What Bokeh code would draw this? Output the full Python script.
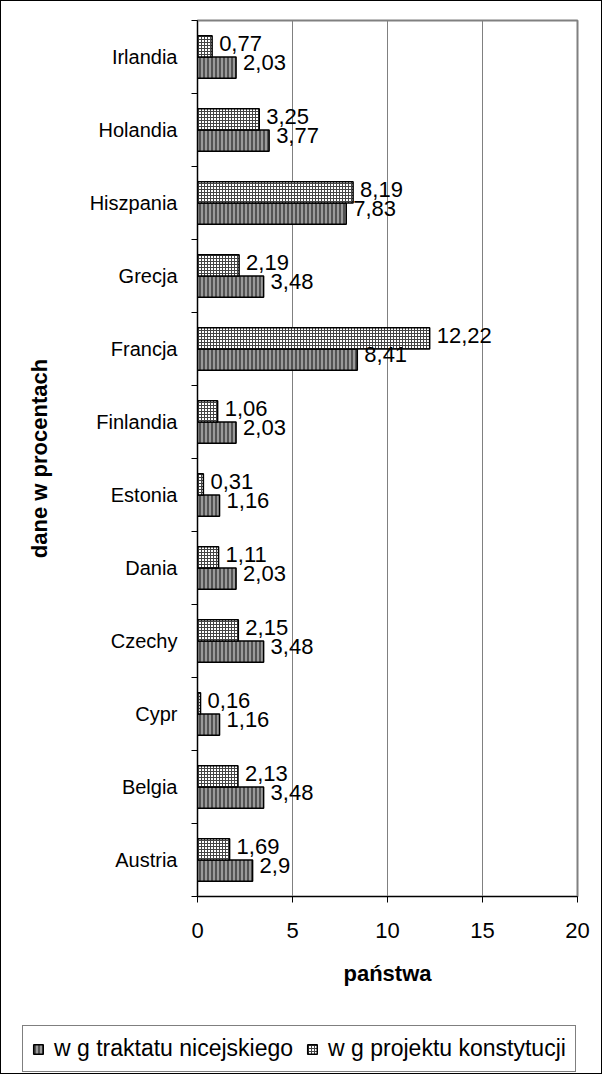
from bokeh.plotting import figure
from bokeh.layouts import column
from bokeh.models import (ColumnDataSource, FixedTicker, Legend, LegendItem,
                          CDSView, IndexFilter)
from bokeh.core.properties import value
from bokeh.embed import file_html
from bokeh.resources import INLINE

# data (bottom to top)
countries = ["Austria", "Belgia", "Cypr", "Czechy", "Dania", "Estonia",
             "Finlandia", "Francja", "Grecja", "Hiszpania", "Holandia", "Irlandia"]
nicea = [2.9, 3.48, 1.16, 3.48, 2.03, 1.16, 2.03, 8.41, 3.48, 7.83, 3.77, 2.03]
konst = [1.69, 2.13, 0.16, 2.15, 1.11, 0.31, 1.06, 12.22, 2.19, 8.19, 3.25, 0.77]
x_ticks = [0, 5, 10, 15, 20]
series_labels = ["w g traktatu nicejskiego", "w g projektu konstytucji"]

FONT = "Liberation Sans"
BAR_H = 0.29
OFF = 0.145

NICEA_STYLE = dict(fill_color="#9a9a9a", hatch_pattern="|", hatch_color="#3a3a3a",
                   hatch_scale=4, hatch_weight=1.5, line_color="black", line_width=1.5)
KONST_STYLE = dict(fill_color="white", hatch_pattern="+", hatch_color="#444444",
                   hatch_scale=3, hatch_weight=1, line_color="black", line_width=1.5)

def fmt(v):
    return ("%g" % v).replace(".", ",")

idx = list(range(len(countries)))
src = ColumnDataSource(dict(
    y_top=[i + 0.5 + OFF for i in idx],
    y_bot=[i + 0.5 - OFF for i in idx],
    ly_top=[i + 0.5 + 0.19 for i in idx],
    ly_bot=[i + 0.5 - 0.08 for i in idx],
    nicea=nicea, konst=konst,
    t_nicea=[fmt(v) for v in nicea],
    t_konst=[fmt(v) for v in konst],
))

p = figure(width=600, height=1008, x_range=(0, 20), y_range=(0, len(countries)),
           output_backend="svg", toolbar_location=None,
           min_border_left=196, min_border_right=24, min_border_top=19,
           min_border_bottom=113)
p.frame_align = False
p.outline_line_color = "#808080"
p.outline_line_width = 2
p.background_fill_color = "white"

p.hbar(y="y_bot", right="nicea", left=0, height=BAR_H, source=src, **NICEA_STYLE)
p.hbar(y="y_top", right="konst", left=0, height=BAR_H, source=src, **KONST_STYLE)

p.text(x="konst", y="ly_top", text="t_konst", source=src, x_offset=7,
       text_font=value(FONT), text_font_size="22px", text_baseline="middle",
       text_align="left", text_color="black")
p.text(x="nicea", y="ly_bot", text="t_nicea", source=src, x_offset=7,
       text_font=value(FONT), text_font_size="22px", text_baseline="middle",
       text_align="left", text_color="black")

# x axis
p.xaxis.ticker = FixedTicker(ticks=x_ticks)
p.xaxis.major_tick_out = 6
p.xaxis.major_tick_in = 0
p.xaxis.minor_tick_out = 0
p.xaxis.minor_tick_in = 0
p.xaxis.axis_line_color = "black"
p.xaxis.major_tick_line_color = "black"
p.xaxis.major_label_text_font = FONT
p.xaxis.major_label_text_font_size = "22px"
p.xaxis.major_label_text_color = "black"
p.xaxis.major_label_standoff = 20
p.xaxis.axis_label = "państwa"
p.xaxis.axis_label_text_font = FONT
p.xaxis.axis_label_text_font_size = "22px"
p.xaxis.axis_label_text_font_style = "bold"
p.xaxis.axis_label_text_color = "black"
p.xaxis.axis_label_standoff = 20

# y axis
centers = [i + 0.5 for i in idx]
p.yaxis.ticker = FixedTicker(ticks=centers, minor_ticks=list(range(len(countries) + 1)))
p.yaxis.major_label_overrides = {c: n for c, n in zip(centers, countries)}
p.yaxis.major_tick_out = 0
p.yaxis.major_tick_in = 0
p.yaxis.minor_tick_out = 6
p.yaxis.minor_tick_in = 0
p.yaxis.minor_tick_line_color = "black"
p.yaxis.axis_line_color = "black"
p.yaxis.major_label_text_font = FONT
p.yaxis.major_label_text_font_size = "20px"
p.yaxis.major_label_text_color = "black"
p.yaxis.major_label_standoff = 14
p.yaxis.axis_label = "dane w procentach"
p.yaxis.axis_label_text_font = FONT
p.yaxis.axis_label_text_font_size = "22px"
p.yaxis.axis_label_text_font_style = "bold"
p.yaxis.axis_label_text_color = "black"
p.yaxis.axis_label_standoff = 35

p.xgrid.ticker = FixedTicker(ticks=x_ticks)
p.xgrid.grid_line_color = "#808080"
p.xgrid.grid_line_width = 1
p.ygrid.grid_line_color = None

# legend strip: one row of each series is drawn small, hidden under the legend box
pl = figure(width=600, height=64, x_range=(-2, 20), y_range=(-0.5, 2.5),
            output_backend="svg", toolbar_location=None,
            x_axis_location=None, y_axis_location=None,
            min_border_left=0, min_border_right=0, min_border_top=0,
            min_border_bottom=0)
pl.frame_align = False
pl.grid.visible = False
pl.outline_line_color = None
ln = pl.hbar(y="y_bot", right="nicea", left=0, height=BAR_H, source=src,
             view=CDSView(filter=IndexFilter([0])), **NICEA_STYLE)
lk = pl.hbar(y="y_top", right="konst", left=0, height=BAR_H, source=src,
             view=CDSView(filter=IndexFilter([0])), **KONST_STYLE)

legend = Legend(items=[
    LegendItem(label=series_labels[0], renderers=[ln]),
    LegendItem(label=series_labels[1], renderers=[lk]),
], location=(21, 1), orientation="horizontal")
legend.label_text_font = FONT
legend.label_text_font_size = "23px"
legend.label_text_color = "black"
legend.glyph_width = 12
legend.glyph_height = 12
legend.spacing = 13
legend.label_standoff = 10
legend.padding = 9
legend.margin = 0
legend.border_line_color = "black"
legend.border_line_width = 1
legend.background_fill_color = "white"
legend.background_fill_alpha = 1
pl.add_layout(legend, "center")

layout = column(p, pl, spacing=0, styles={"border": "1px solid black"})

open("out.html", "w").write(file_html(layout, INLINE))
